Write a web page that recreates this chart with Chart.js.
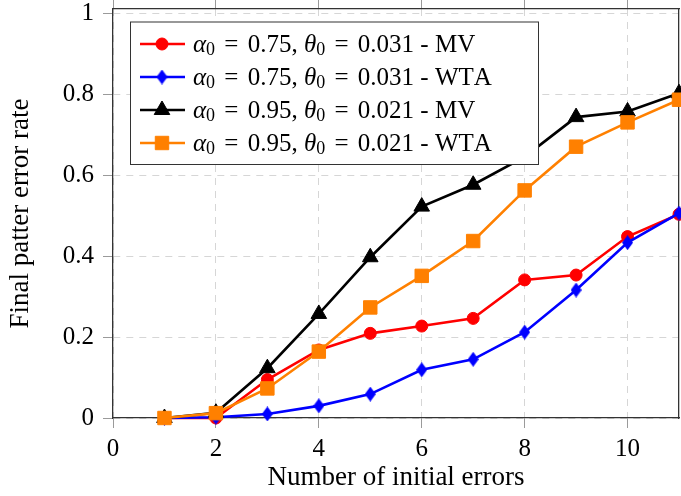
<!DOCTYPE html>
<html>
<head>
<meta charset="utf-8">
<script src="https://cdn.jsdelivr.net/npm/chart.js@4.4.1/dist/chart.umd.min.js"></script>
<style>
	body { margin: 0; background: #fff; }
	#wrap { width: 681px; height: 496px; }
</style>
</head>
<body>
<div id="wrap"><canvas id="chart" width="681" height="496"></canvas></div>
<script>
// Data
const xValues = [1, 2, 3, 4, 5, 6, 7, 8, 9, 10, 11]
const mv075 = [0, 0, 0.095, 0.168, 0.209, 0.227, 0.246, 0.341, 0.353, 0.448, 0.503]
const wta075 = [0, 0.002, 0.01, 0.03, 0.059, 0.119, 0.145, 0.212, 0.316, 0.433, 0.506]
const mv095 = [0, 0.013, 0.123, 0.257, 0.397, 0.522, 0.576, 0.645, 0.743, 0.757, 0.802]
const wta095 = [0, 0.012, 0.073, 0.164, 0.273, 0.351, 0.437, 0.562, 0.67, 0.73, 0.786]
const seriesLabels = [
	'α_0 = 0.75, θ_0 = 0.031 - MV',
	'α_0 = 0.75, θ_0 = 0.031 - WTA',
	'α_0 = 0.95, θ_0 = 0.021 - MV',
	'α_0 = 0.95, θ_0 = 0.021 - WTA',
]
const xTickValues = [0, 2, 4, 6, 8, 10]
const yTickValues = [0, 0.2, 0.4, 0.6, 0.8, 1]

const FONT = "'Liberation Serif', 'Times New Roman', serif"
Chart.defaults.font.family = FONT
Chart.defaults.color = '#000'

function makeDiamond(color, w, h) {
	const c = document.createElement('canvas')
	c.width = w
	c.height = h
	const g = c.getContext('2d')
	g.fillStyle = color
	g.beginPath()
	g.moveTo(w / 2, 0)
	g.lineTo(w, h / 2)
	g.lineTo(w / 2, h)
	g.lineTo(0, h / 2)
	g.closePath()
	g.fill()
	return c
}

function series(values, label, color, style, radius, order) {
	return {
		label: label,
		data: xValues.map((x, i) => ({ x: x, y: values[i] })),
		borderColor: color,
		backgroundColor: color,
		borderWidth: 2.6,
		pointStyle: style,
		pointRadius: radius,
		pointHoverRadius: radius,
		pointBorderWidth: 1,
		pointBorderColor: color,
		pointBackgroundColor: color,
		tension: 0,
		fill: false,
		clip: false,
		order: order,
	}
}

const datasets = [
	series(mv075, seriesLabels[0], '#ff0000', 'circle', 6, 4),
	series(wta075, seriesLabels[1], '#0000ff', makeDiamond('#0000ff', 11, 15), 7, 3),
	series(mv095, seriesLabels[2], '#000000', 'triangle', 9, 2),
	series(wta095, seriesLabels[3], '#ff8000', 'rect', 9.5, 1),
]

// draws "α_0 = ..." with italic greek letters and small subscripts
function drawRichLabel(ctx, text, x, y, size) {
	let cx = x
	for (let i = 0; i < text.length; i++) {
		let ch = text[i]
		let font = `${size}px ${FONT}`
		let dy = 0
		let gap = 0
		if (ch === '_') {
			i++
			ch = text[i]
			font = `${Math.round(size * 0.7)}px ${FONT}`
			dy = size * 0.22
		} else if (/[α-ω]/.test(ch)) {
			font = `italic ${size}px ${FONT}`
		} else if (ch === '=') {
			gap = 3
		}
		ctx.font = font
		cx += gap
		ctx.fillText(ch, cx, y + dy)
		cx += ctx.measureText(ch).width + gap
	}
}

const insideLegend = {
	id: 'insideLegend',
	afterDraw(chart) {
		const ctx = chart.ctx
		const area = chart.chartArea
		const bx = area.left + 17
		const by = area.top + 12.5
		const bw = 408
		const bh = 142.5
		ctx.save()
		ctx.fillStyle = '#fff'
		ctx.fillRect(bx, by, bw, bh)
		ctx.strokeStyle = '#333'
		ctx.lineWidth = 1
		ctx.strokeRect(bx + 0.5, by + 0.5, bw, bh)
		chart.data.datasets.forEach((ds, i) => {
			const ry = by + 22.5 + i * 33
			ctx.strokeStyle = ds.borderColor
			ctx.lineWidth = ds.borderWidth
			ctx.beginPath()
			ctx.moveTo(bx + 10, ry)
			ctx.lineTo(bx + 55, ry)
			ctx.stroke()
			ctx.fillStyle = ds.borderColor
			ctx.lineWidth = 1
			Chart.helpers.drawPoint(
				ctx,
				{ pointStyle: ds.pointStyle, radius: ds.pointRadius, borderWidth: 1, rotation: 0 },
				bx + 32,
				ry
			)
			ctx.fillStyle = '#000'
			ctx.textBaseline = 'middle'
			ctx.textAlign = 'left'
			drawRichLabel(ctx, ds.label, bx + 63, ry + 1, 25)
		})
		ctx.restore()
	},
}

// fixed scale boxes so the plot area lands where the reference has it
function fixBox(size) {
	return s => {
		if (s.isHorizontal()) s.height = size
		else s.width = size
		s.paddingTop = 0
		s.paddingBottom = 0
		s.paddingLeft = 0
		s.paddingRight = 0
	}
}

const gridDash = [7, 6]
const tickGrey = '#9a9a9a'

new Chart(document.getElementById('chart'), {
	type: 'line',
	data: { datasets: datasets },
	plugins: [insideLegend],
	options: {
		responsive: false,
		animation: false,
		events: [],
		layout: { autoPadding: false, padding: { top: 0, right: 2, bottom: 0, left: 0 } },
		plugins: { legend: { display: false }, tooltip: { enabled: false } },
		scales: {
			x: {
				type: 'linear',
				position: 'bottom',
				min: 0,
				max: 11,
				afterBuildTicks: s => {
					s.ticks = xTickValues.map(v => ({ value: v }))
				},
				afterFit: fixBox(78),
				ticks: { font: { size: 25 }, padding: 6, maxRotation: 0, callback: v => String(v) },
				grid: { color: '#d6d6d6', lineWidth: 1, tickLength: 10, tickColor: tickGrey },
				border: { color: '#333', width: 1.3, dash: gridDash },
				title: {
					display: true,
					text: 'Number of initial errors',
					font: { size: 27 },
					padding: { top: 0, bottom: 2 },
				},
			},
			x2: {
				type: 'linear',
				position: 'top',
				min: 0,
				max: 11,
				afterBuildTicks: s => {
					s.ticks = xTickValues.map(v => ({ value: v }))
				},
				afterFit: fixBox(9),
				ticks: { display: false },
				grid: { drawOnChartArea: false, tickLength: 9, tickColor: tickGrey },
				border: { color: '#333', width: 1.3 },
			},
			y: {
				type: 'linear',
				position: 'left',
				min: 0,
				max: 1.01,
				afterBuildTicks: s => {
					s.ticks = yTickValues.map(v => ({ value: v }))
				},
				afterFit: fixBox(113),
				ticks: { font: { size: 25 }, padding: 9, callback: v => String(v) },
				grid: { color: '#d6d6d6', lineWidth: 1, tickLength: 10, tickColor: tickGrey },
				border: { color: '#333', width: 1.3, dash: gridDash },
				title: {
					display: true,
					text: 'Final patter error rate',
					font: { size: 27 },
					padding: { top: 5, bottom: 0 },
				},
			},
			y2: {
				type: 'linear',
				position: 'right',
				min: 0,
				max: 1.01,
				afterFit: fixBox(0),
				ticks: { display: false },
				grid: { drawOnChartArea: false, drawTicks: false },
				border: { color: '#333', width: 1.3 },
			},
		},
	},
})
</script>
</body>
</html>
